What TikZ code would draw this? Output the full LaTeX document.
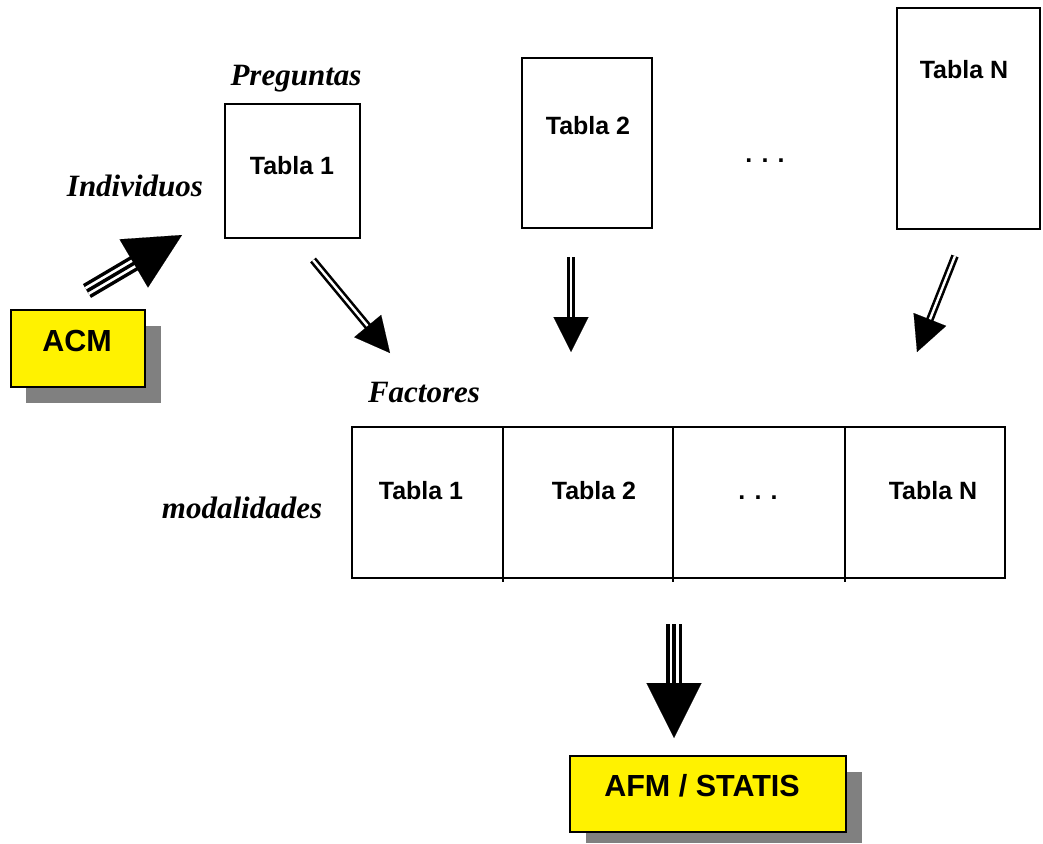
\documentclass[tikz,border=0pt]{standalone}
\usepackage{fontspec}
\setmainfont{Liberation Serif}
\setsansfont{Liberation Sans}
\usetikzlibrary{arrows.meta,calc}

\begin{document}
\begin{tikzpicture}[x=1pt,y=-1pt,
    caja/.style={line width=1.5pt},
    sombra/.style={fill=black!50},
    marco/.style={fill=yellow,draw=black,line width=1.5pt},
    etiq/.style={anchor=base,font=\fontsize{31}{31}\selectfont\bfseries\itshape},
    tabla/.style={anchor=base,font=\fontsize{25}{25}\selectfont\sffamily\bfseries},
    metodo/.style={anchor=base,font=\fontsize{30.5}{30.5}\selectfont\sffamily\bfseries},
    doble/.style={line width=2.6pt,double,double distance=2.4pt},
    triple/.style={line width=3.5pt,double,double distance=9pt},
    centro/.style={line width=3.5pt},
    punta/.style={line width=0.1pt,-{Triangle[length=#1,width=#1]}}]
    \useasboundingbox (0,0) rectangle (1043,843);

    % tablas de partida
    \draw[caja] (225,104) rectangle (360,238);
    \draw[caja] (522,58) rectangle (652,228);
    \draw[caja] (897,8) rectangle (1040,229);
    \node[etiq] (preg) at (296,85) {Preguntas};
    \node[etiq] (indiv) at (135,196) {Individuos};
    \node[tabla] (t1) at (292,174) {Tabla 1};
    \node[tabla] (t2) at (588,134) {Tabla 2};
    \node[tabla] (tp) at (765,162) {. . .};
    \node[tabla] (tn) at (964,78) {Tabla N};

    % tabla yuxtapuesta
    \draw[caja] (352,427) rectangle (1005,578);
    \draw[caja] (503,427) -- (503,582);
    \draw[caja] (673,427) -- (673,582);
    \draw[caja] (845,427) -- (845,582);
    \node[etiq] (fact) at (424,402) {Factores};
    \node[etiq] (modal) at (242,518) {modalidades};
    \node[tabla] (b1) at (421,499) {Tabla 1};
    \node[tabla] (b2) at (594,499) {Tabla 2};
    \node[tabla] (bp) at (758,499) {. . .};
    \node[tabla] (bn) at (933,499) {Tabla N};

    % metodos
    \fill[sombra] (26,326) rectangle (161,403);
    \draw[marco] (11,310) rectangle (145,387);
    \node[metodo] (acm) at (77,351) {ACM};
    \fill[sombra] (586,772) rectangle (862,843);
    \draw[marco] (570,756) rectangle (846,832);
    \node[metodo] (afm) at (702,796) {AFM / STATIS};

    % flechas
    \coordinate (s0) at (87,291);  \coordinate (e0) at (182,235);
    \coordinate (s1) at (313,260); \coordinate (e1) at (390,353);
    \coordinate (s2) at (571,257); \coordinate (e2) at (571,352);
    \coordinate (s3) at (955,256); \coordinate (e3) at (917,352);
    \coordinate (s4) at (674,624); \coordinate (e4) at (674,738);

    \draw[triple,shorten >=50pt] (s0) -- (e0);
    \draw[centro,shorten >=50pt] (s0) -- (e0);
    \draw[punta=56pt] ($(e0)!10pt!(s0)$) -- (e0);

    \draw[doble,shorten >=32pt] (s1) -- (e1);
    \draw[punta=35pt] ($(e1)!10pt!(s1)$) -- (e1);
    \draw[doble,shorten >=32pt] (s2) -- (e2);
    \draw[punta=35pt] ($(e2)!10pt!(s2)$) -- (e2);
    \draw[doble,shorten >=32pt] (s3) -- (e3);
    \draw[punta=35pt] ($(e3)!10pt!(s3)$) -- (e3);

    \draw[triple,shorten >=52pt] (s4) -- (e4);
    \draw[centro,shorten >=52pt] (s4) -- (e4);
    \draw[punta=55pt] ($(e4)!10pt!(s4)$) -- (e4);
\end{tikzpicture}
\end{document}
